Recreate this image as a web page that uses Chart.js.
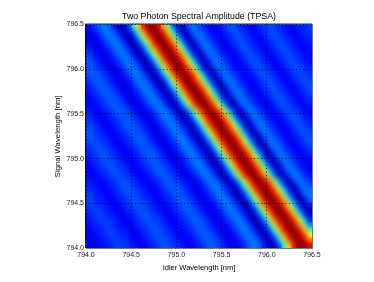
<!DOCTYPE html>
<html>
<head>
<meta charset="utf-8">
<title>TPSA</title>
<script src="https://cdn.jsdelivr.net/npm/chart.js@4/dist/chart.umd.min.js"></script>
<style>
  html, body { margin: 0; padding: 0; background: #fff; }
  canvas { display: block; }
</style>
</head>
<body>
<canvas id="tpsa" width="374" height="282"></canvas>
<script>
// axis range and ticks, in nm
const idlerRange = [794.0, 796.5];
const signalRange = [794.0, 796.5];
const tickStep = 0.5;

// amplitude, 0-100, first row is the top of the plot
const amplitudeRows = [
[12,16,21,25,23,16,7,5,17,40,66,88,98,99,90,70,44,20,7,5,21,24,20,16,13,10,14,17,20,20,17,15,12,13,16,18,20,18,16,14,13,13,15,16,18],
[10,13,18,22,25,21,14,4,8,24,49,74,92,99,97,85,63,35,15,4,14,24,23,19,15,12,11,15,18,21,19,16,14,11,14,17,19,20,17,15,13,12,14,16,17],
[10,11,14,19,24,24,19,10,3,12,32,59,81,96,100,94,77,53,27,10,3,18,25,22,17,14,11,13,16,19,21,18,16,13,12,15,18,20,19,17,15,13,13,15,16],
[13,9,12,16,21,25,23,16,7,5,17,40,66,88,98,99,90,70,44,20,7,5,21,24,20,16,13,10,14,17,20,20,17,15,12,13,16,18,20,18,16,14,13,13,15],
[15,11,10,13,18,22,25,21,14,4,8,24,49,74,92,99,97,85,63,35,15,4,14,24,23,19,15,12,11,15,18,21,19,16,14,11,14,17,19,20,17,15,13,12,14],
[17,14,10,11,14,19,24,24,19,10,3,12,32,59,81,96,100,94,77,53,27,10,3,18,25,22,17,14,11,13,16,19,21,18,16,13,12,15,18,20,19,17,15,13,13],
[20,16,13,9,12,16,21,25,23,16,7,5,17,40,66,88,98,99,90,70,44,20,7,5,21,24,20,16,13,10,14,17,20,20,17,15,12,13,16,18,20,18,16,14,13],
[21,19,15,11,10,13,18,22,25,21,14,4,8,24,49,74,92,99,97,85,63,35,15,4,14,24,23,19,15,12,11,15,18,21,19,16,14,11,14,17,19,20,17,15,13],
[21,20,17,14,10,11,14,19,24,24,19,10,3,12,32,59,81,96,100,94,77,53,27,10,3,18,25,22,17,14,11,13,16,19,21,18,16,13,12,15,18,20,19,17,15],
[21,21,20,16,13,9,12,16,21,25,23,16,7,5,17,40,66,88,98,99,90,70,44,20,7,5,21,24,20,16,13,10,14,17,20,20,17,15,12,13,16,18,20,18,16],
[19,22,21,19,15,11,10,13,18,22,25,21,14,4,8,24,49,74,92,99,97,85,63,35,15,4,14,24,23,19,15,12,11,15,18,21,19,16,14,11,14,17,19,20,17],
[17,20,21,20,17,14,10,11,14,19,24,24,19,10,3,12,32,59,81,96,100,94,77,53,27,10,3,18,25,22,17,14,11,13,16,19,21,18,16,13,12,15,18,20,19],
[15,18,21,21,20,16,13,9,12,16,21,25,23,16,7,5,17,40,66,88,98,99,90,70,44,20,7,5,21,24,20,16,13,10,14,17,20,20,17,15,12,13,16,18,20],
[14,16,19,22,21,19,15,11,10,13,18,22,25,21,14,4,8,24,49,74,92,99,97,85,63,35,15,4,14,24,23,19,15,12,11,15,18,21,19,16,14,11,14,17,19],
[12,15,17,20,21,20,17,14,10,11,14,19,24,24,19,10,3,12,32,59,81,96,100,94,77,53,27,10,3,18,25,22,17,14,11,13,16,19,21,18,16,13,12,15,18],
[11,13,15,18,21,21,20,16,13,9,12,16,21,25,23,16,7,5,17,40,66,88,98,99,90,70,44,20,7,5,21,24,20,16,13,10,14,17,20,20,17,15,12,13,16],
[13,12,14,16,19,22,21,19,15,11,10,13,18,22,25,21,14,4,8,24,49,74,92,99,97,85,63,35,15,4,14,24,23,19,15,12,11,15,18,21,19,16,14,11,14],
[15,13,12,14,16,19,22,21,19,15,11,10,13,18,22,25,21,14,4,8,24,49,74,92,99,97,85,63,35,15,4,14,24,23,19,15,12,11,15,18,21,19,16,14,11],
[17,14,12,12,15,17,20,21,20,17,14,10,11,14,19,24,24,19,10,3,12,32,59,81,96,100,94,77,53,27,10,3,18,25,22,17,14,11,13,16,19,21,18,16,13],
[18,16,14,11,13,15,18,21,21,20,16,13,9,12,16,21,25,23,16,7,5,17,40,66,88,98,99,90,70,44,20,7,5,21,24,20,16,13,10,14,17,20,20,17,15],
[19,18,15,13,12,14,16,19,22,21,19,15,11,10,13,18,22,25,21,14,4,8,24,49,74,92,99,97,85,63,35,15,4,14,24,23,19,15,12,11,15,18,21,19,16],
[20,19,17,14,12,12,15,17,20,21,20,17,14,10,11,14,19,24,24,19,10,3,12,32,59,81,96,100,94,77,53,27,10,3,18,25,22,17,14,11,13,16,19,21,18],
[21,20,18,16,14,11,13,15,18,21,21,20,16,13,9,12,16,21,25,23,16,7,5,17,40,66,88,98,99,90,70,44,20,7,5,21,24,20,16,13,10,14,17,20,20],
[19,21,19,18,15,13,12,14,16,19,22,21,19,15,11,10,13,18,22,25,21,14,4,8,24,49,74,92,99,97,85,63,35,15,4,14,24,23,19,15,12,11,15,18,21],
[17,20,20,19,17,14,12,12,15,17,20,21,20,17,14,10,11,14,19,24,24,19,10,3,12,32,59,81,96,100,94,77,53,27,10,3,18,25,22,17,14,11,13,16,19],
[16,18,21,20,18,16,14,11,13,15,18,21,21,20,16,13,9,12,16,21,25,23,16,7,5,17,40,66,88,98,99,90,70,44,20,7,5,21,24,20,16,13,10,14,17],
[15,17,19,21,19,18,15,13,12,14,16,19,22,21,19,15,11,10,13,18,22,25,21,14,4,8,24,49,74,92,99,97,85,63,35,15,4,14,24,23,19,15,12,11,15],
[13,16,17,20,20,19,17,14,12,12,15,17,20,21,20,17,14,10,11,14,19,24,24,19,10,3,12,32,59,81,96,100,94,77,53,27,10,3,18,25,22,17,14,11,13],
[12,14,16,18,21,20,18,16,14,11,13,15,18,21,21,20,16,13,9,12,16,21,25,23,16,7,5,17,40,66,88,98,99,90,70,44,20,7,5,21,24,20,16,13,10],
[12,12,15,17,19,21,19,18,15,13,12,14,16,19,22,21,19,15,11,10,13,18,22,25,21,14,4,8,24,49,74,92,99,97,85,63,35,15,4,14,24,23,19,15,12],
[13,11,13,16,17,20,20,19,17,14,12,12,15,17,20,21,20,17,14,10,11,14,19,24,24,19,10,3,12,32,59,81,96,100,94,77,53,27,10,3,18,25,22,17,14],
[15,13,11,13,16,17,20,20,19,17,14,12,12,15,17,20,21,20,17,14,10,11,14,19,24,24,19,10,3,12,32,59,81,96,100,94,77,53,27,10,3,18,25,22,17],
[16,15,13,12,14,16,18,21,20,18,16,14,11,13,15,18,21,21,20,16,13,9,12,16,21,25,23,16,7,5,17,40,66,88,98,99,90,70,44,20,7,5,21,24,20],
[17,16,14,12,12,15,17,19,21,19,18,15,13,12,14,16,19,22,21,19,15,11,10,13,18,22,25,21,14,4,8,24,49,74,92,99,97,85,63,35,15,4,14,24,23],
[19,17,15,13,11,13,16,17,20,20,19,17,14,12,12,15,17,20,21,20,17,14,10,11,14,19,24,24,19,10,3,12,32,59,81,96,100,94,77,53,27,10,3,18,25],
[19,18,16,15,13,12,14,16,18,21,20,18,16,14,11,13,15,18,21,21,20,16,13,9,12,16,21,25,23,16,7,5,17,40,66,88,98,99,90,70,44,20,7,5,21],
[18,19,17,16,14,12,12,15,17,19,21,19,18,15,13,12,14,16,19,22,21,19,15,11,10,13,18,22,25,21,14,4,8,24,49,74,92,99,97,85,63,35,15,4,14],
[16,18,19,17,15,13,11,13,16,17,20,20,19,17,14,12,12,15,17,20,21,20,17,14,10,11,14,19,24,24,19,10,3,12,32,59,81,96,100,94,77,53,27,10,3],
[15,17,19,18,16,15,13,12,14,16,18,21,20,18,16,14,11,13,15,18,21,21,20,16,13,9,12,16,21,25,23,16,7,5,17,40,66,88,98,99,90,70,44,20,7],
[14,16,18,19,17,16,14,12,12,15,17,19,21,19,18,15,13,12,14,16,19,22,21,19,15,11,10,13,18,22,25,21,14,4,8,24,49,74,92,99,97,85,63,35,15],
[13,15,16,18,19,17,15,13,11,13,16,17,20,20,19,17,14,12,12,15,17,20,21,20,17,14,10,11,14,19,24,24,19,10,3,12,32,59,81,96,100,94,77,53,27],
[11,13,15,17,19,18,16,15,13,12,14,16,18,21,20,18,16,14,11,13,15,18,21,21,20,16,13,9,12,16,21,25,23,16,7,5,17,40,66,88,98,99,90,70,44],
[11,12,14,16,18,19,17,16,14,12,12,15,17,19,21,19,18,15,13,12,14,16,19,22,21,19,15,11,10,13,18,22,25,21,14,4,8,24,49,74,92,99,97,85,63],
[12,11,13,15,16,18,19,17,15,13,11,13,16,17,20,20,19,17,14,12,12,15,17,20,21,20,17,14,10,11,14,19,24,24,19,10,3,12,32,59,81,96,100,94,77],
[13,12,11,13,15,17,19,18,16,15,13,12,14,16,18,21,20,18,16,14,11,13,15,18,21,21,20,16,13,9,12,16,21,25,23,16,7,5,17,40,66,88,98,99,90]
];

// jet colormap, same as the original figure
function jet(v) {
    const t = v / 100;
    const r = Math.min(4 * t - 1.5, -4 * t + 4.5);
    const g = Math.min(4 * t - 0.5, -4 * t + 3.5);
    const b = Math.min(4 * t + 0.5, -4 * t + 2.5);
    const c = x => Math.round(255 * Math.max(0, Math.min(1, x)));
    return `rgb(${c(r)},${c(g)},${c(b)})`;
}

// one point per cell, placed in data units
const cols = amplitudeRows[0].length;
const rows = amplitudeRows.length;
const cells = [];
amplitudeRows.forEach((row, j) => {
    row.forEach((v, i) => {
        cells.push({
            x: idlerRange[0] + (i + 0.5) * (idlerRange[1] - idlerRange[0]) / cols,
            y: signalRange[1] - (j + 0.5) * (signalRange[1] - signalRange[0]) / rows,
            v: v
        });
    });
});

// smooths the cells, the original is a resampled image
const smoothCells = {
    id: 'smoothCells',
    afterDatasetsDraw(chart) {
        const a = chart.chartArea;
        const ctx = chart.ctx;
        ctx.save();
        ctx.beginPath();
        ctx.rect(a.left, a.top, a.width, a.height);
        ctx.clip();
        ctx.filter = 'blur(2.5px)';
        ctx.drawImage(chart.canvas, a.left, a.top, a.width, a.height, a.left, a.top, a.width, a.height);
        ctx.restore();
    }
};

// frame round the plot
const plotFrame = {
    id: 'plotFrame',
    afterDraw(chart) {
        const a = chart.chartArea;
        const ctx = chart.ctx;
        ctx.save();
        ctx.lineWidth = 1;
        ctx.strokeStyle = '#777';
        ctx.beginPath();
        ctx.moveTo(a.left, a.bottom + 0.5);
        ctx.lineTo(a.right + 0.5, a.bottom + 0.5);
        ctx.lineTo(a.right + 0.5, a.top);
        ctx.stroke();
        ctx.strokeStyle = '#111';
        ctx.beginPath();
        ctx.moveTo(a.left - 0.5, a.bottom);
        ctx.lineTo(a.left - 0.5, a.top - 0.5);
        ctx.lineTo(a.right, a.top - 0.5);
        ctx.stroke();
        ctx.restore();
    }
};

const fontFamily = '"Liberation Sans", Arial, sans-serif';

function axisOptions(range, label, side) {
    return {
        type: 'linear',
        min: range[0],
        max: range[1],
        afterBuildTicks(scale) {
            scale.ticks = [];
            for (let i = 0; i <= 5; i++) {
                scale.ticks.push({ value: range[0] + i * tickStep });
            }
        },
        ticks: {
            autoSkip: false,
            maxRotation: 0,
            padding: side === 'x' ? 3 : 2,
            color: '#222',
            font: { family: fontFamily, size: 7 },
            callback: v => v.toFixed(1)
        },
        grid: {
            z: 1,
            color: 'rgba(0,0,0,0.8)',
            lineWidth: 1,
            drawTicks: false
        },
        border: { display: false, dash: [1, 2.5] },
        title: {
            display: true,
            text: label,
            color: '#000',
            padding: 0,
            font: { family: fontFamily, size: side === 'x' ? 7.5 : 7.8 }
        },
        afterFit(scale) {
            if (side === 'x') {
                scale.height = 24;
            } else {
                scale.width = 33;
            }
        }
    };
}

new Chart(document.getElementById('tpsa'), {
    type: 'scatter',
    data: {
        datasets: [{
            data: cells,
            pointStyle: 'rect',
            pointRadius: 4,
            pointHoverRadius: 4,
            pointBorderWidth: 0,
            pointBackgroundColor: ctx => jet(ctx.raw.v)
        }]
    },
    options: {
        responsive: false,
        animation: false,
        events: [],
        layout: { padding: { left: 53, right: 62, top: 7, bottom: 10 } },
        scales: {
            x: axisOptions(idlerRange, 'Idler Wavelength [nm]', 'x'),
            y: axisOptions(signalRange, 'Signal Wavelength [nm]', 'y')
        },
        plugins: {
            legend: { display: false },
            tooltip: { enabled: false },
            title: {
                display: true,
                fullSize: false,
                text: 'Two Photon Spectral Amplitude (TPSA)',
                color: '#000',
                padding: { top: 4, bottom: 3 },
                font: { family: fontFamily, size: 8.8, weight: 'normal' }
            }
        }
    },
    plugins: [smoothCells, plotFrame]
});
</script>
</body>
</html>
